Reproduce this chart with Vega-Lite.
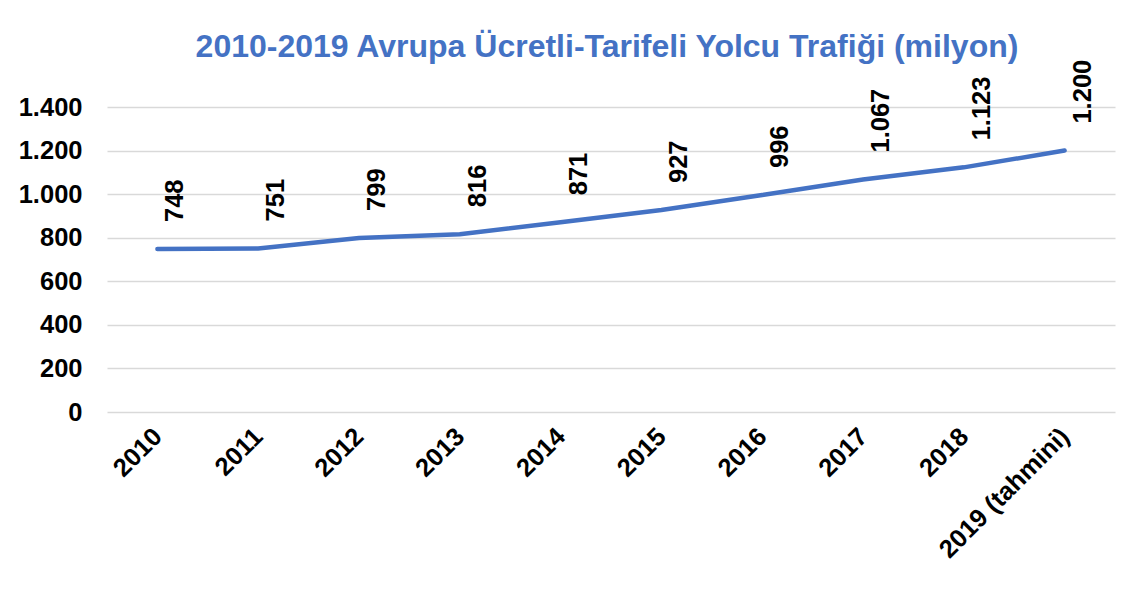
{
  "$schema": "https://vega.github.io/schema/vega-lite/v6.json",
  "width": 1008,
  "height": 305,
  "autosize": {"type": "none"},
  "padding": {"left": 107, "top": 107, "right": 21, "bottom": 193},
  "background": "white",
  "config": {
    "locale": {"number": {"decimal": ",", "thousands": ".", "grouping": [3], "currency": ["", " TL"]}},
    "view": {"stroke": null},
    "font": "Liberation Sans"
  },
  "title": {
    "text": "2010-2019 Avrupa Ücretli-Tarifeli Yolcu Trafiği (milyon)",
    "color": "#4472C4",
    "font": "Liberation Sans",
    "fontSize": 32,
    "fontWeight": "bold",
    "anchor": "middle",
    "offset": -4,
    "dx": -4
  },
  "data": {
    "values": [
      {"yil": "2010", "yolcu": 748},
      {"yil": "2011", "yolcu": 751},
      {"yil": "2012", "yolcu": 799},
      {"yil": "2013", "yolcu": 816},
      {"yil": "2014", "yolcu": 871},
      {"yil": "2015", "yolcu": 927},
      {"yil": "2016", "yolcu": 996},
      {"yil": "2017", "yolcu": 1067},
      {"yil": "2018", "yolcu": 1123},
      {"yil": "2019 (tahmini)", "yolcu": 1200}
    ]
  },
  "encoding": {
    "x": {
      "field": "yil",
      "type": "ordinal",
      "sort": null,
      "scale": {"type": "point", "padding": 0.5},
      "axis": {
        "title": null,
        "domain": false,
        "ticks": false,
        "grid": false,
        "labelAngle": -45,
        "labelAlign": "right",
        "labelBaseline": "middle",
        "labelFont": "Liberation Sans",
        "labelFontSize": 25.5,
        "labelFontWeight": "bold",
        "labelColor": "black",
        "labelPadding": 20
      }
    },
    "y": {
      "field": "yolcu",
      "type": "quantitative",
      "scale": {"domain": [0, 1400], "nice": false},
      "axis": {
        "title": null,
        "domain": false,
        "ticks": false,
        "values": [0, 200, 400, 600, 800, 1000, 1200, 1400],
        "format": ",d",
        "gridColor": "#d9d9d9",
        "gridWidth": 1.5,
        "labelFont": "Liberation Sans",
        "labelFontSize": 25.5,
        "labelFontWeight": "bold",
        "labelColor": "black",
        "labelPadding": 25
      }
    }
  },
  "layer": [
    {
      "mark": {"type": "line", "color": "#4472C4", "strokeWidth": 4.5, "strokeCap": "round"}
    },
    {
      "mark": {
        "type": "text",
        "angle": 270,
        "align": "left",
        "baseline": "middle",
        "dx": 27,
        "dy": 18,
        "font": "Liberation Sans",
        "fontSize": 25.5,
        "fontWeight": "bold",
        "color": "black"
      },
      "encoding": {
        "text": {"field": "yolcu", "type": "quantitative", "format": ",d"}
      }
    }
  ]
}
